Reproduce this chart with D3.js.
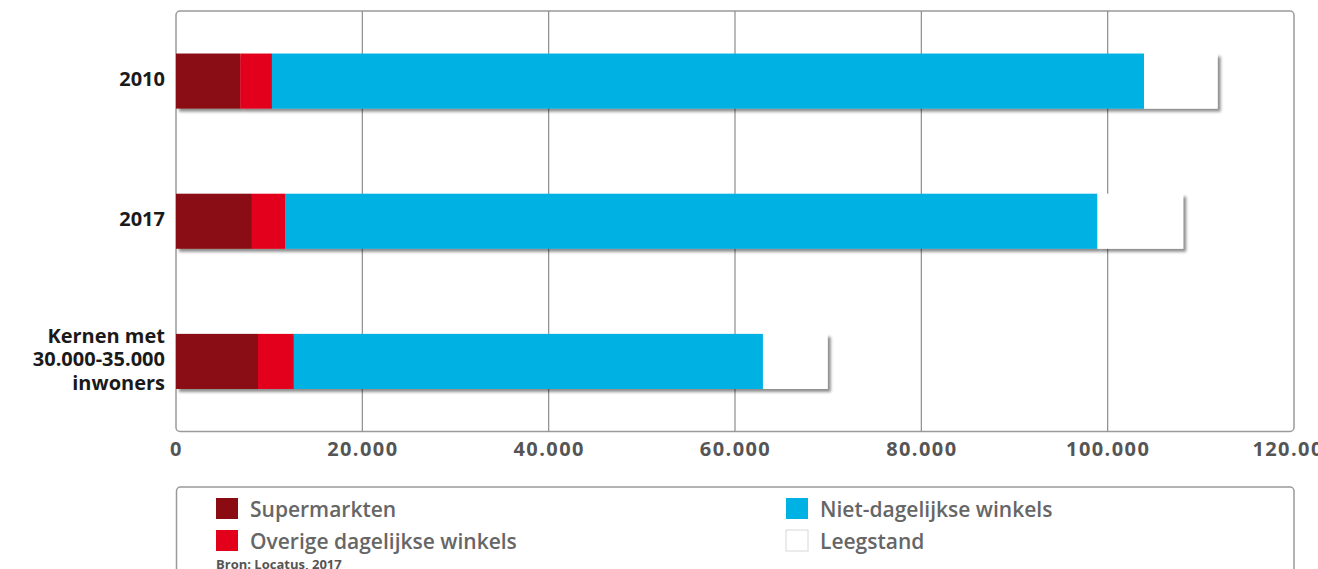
<!DOCTYPE html>
<html>
<head>
<meta charset="utf-8">
<script src="https://cdn.jsdelivr.net/npm/d3@7"></script>
<style>
  html, body { margin: 0; padding: 0; background: #fff; }
  svg { display: block; }
</style>
</head>
<body>
<svg id="chart" width="1318" height="569"></svg>
<script>
// ---- data ----
const categories = ["2010", "2017", "Kernen met 30.000-35.000 inwoners"];
const categoryLines = [["2010"], ["2017"], ["Kernen met", "30.000-35.000", "inwoners"]];
const seriesNames = ["Supermarkten", "Overige dagelijkse winkels", "Niet-dagelijkse winkels", "Leegstand"];
const supermarkten = [6900, 8150, 8800];
const overige = [3400, 3550, 3850];
const nietDagelijks = [93600, 87200, 50350];
const leegstand = [7900, 9200, 6950];
const tickValues = [0, 20000, 40000, 60000, 80000, 100000, 120000];
const sourceText = "Bron: Locatus, 2017";

const colors = ["#8a0c12", "#e2001a", "#00b1e4", "#ffffff"];

// ---- layout ----
const svg = d3.select("#chart");
const plotLeft = 176, plotRight = 1294, plotTop = 11, plotBottom = 431.5;

const rows = categories.map((c, i) => ({
  cat: c,
  "Supermarkten": supermarkten[i],
  "Overige dagelijkse winkels": overige[i],
  "Niet-dagelijkse winkels": nietDagelijks[i],
  "Leegstand": leegstand[i]
}));
const stacked = d3.stack().keys(seriesNames)(rows);

const x = d3.scaleLinear().domain([0, 120000]).range([plotLeft, plotRight]);
const y = d3.scaleBand().domain(categories).range([plotTop, plotBottom]).paddingInner(0.607).paddingOuter(0.3035);

const nl = d3.formatLocale({decimal: ",", thousands: ".", grouping: [3], currency: ["€", ""]});
const fmt = nl.format(",");

// shadow filter
const defs = svg.append("defs");
const f = defs.append("filter").attr("id", "shadow").attr("x", "-5%").attr("y", "-20%").attr("width", "115%").attr("height", "160%");
f.append("feDropShadow").attr("dx", 3).attr("dy", 3).attr("stdDeviation", 1.6)
  .attr("flood-color", "#000").attr("flood-opacity", 0.45);

// plot box
svg.append("rect")
  .attr("x", plotLeft).attr("y", plotTop).attr("width", plotRight - plotLeft).attr("height", plotBottom - plotTop)
  .attr("rx", 4).attr("fill", "#fff").attr("stroke", "#9a9a9a").attr("stroke-width", 1.5);

// grid lines
svg.append("g").selectAll("line").data(tickValues.filter(d => d > 0 && d < 120000)).join("line")
  .attr("x1", d => x(d)).attr("x2", d => x(d))
  .attr("y1", plotTop).attr("y2", plotBottom)
  .attr("stroke", "#8c8c8c").attr("stroke-width", 1.2);

// bars, grouped per category so the shadow is unified
const barGroups = svg.append("g").selectAll("g").data(categories).join("g")
  .attr("filter", "url(#shadow)");
barGroups.each(function(cat, ci) {
  const g = d3.select(this);
  stacked.forEach((layer, si) => {
    const d = layer[ci];
    g.append("rect")
      .attr("x", x(d[0]))
      .attr("y", y(cat))
      .attr("width", x(d[1]) - x(d[0]))
      .attr("height", y.bandwidth())
      .attr("fill", colors[si]);
  });
});

// x axis labels
const xAxis = d3.axisBottom(x).tickValues(tickValues).tickFormat(fmt).tickSize(0).tickPadding(0);
const xg = svg.append("g").attr("transform", `translate(0,${plotBottom})`).call(xAxis);
xg.select(".domain").remove();
xg.selectAll("text")
  .attr("dy", null).attr("y", 24.5)
  .attr("font-family", "'Open Sans', sans-serif").attr("font-weight", 700)
  .attr("font-size", 20).attr("letter-spacing", "1.4px")
  .attr("fill", "#555");

// y axis labels
const yAxis = d3.axisLeft(y).tickSize(0).tickPadding(0).tickFormat("");
const yg = svg.append("g").attr("transform", `translate(${plotLeft - 11},0)`).call(yAxis);
yg.select(".domain").remove();
yg.selectAll(".tick").each(function(cat, i) {
  const lines = categoryLines[i];
  const t = d3.select(this).append("text")
    .attr("text-anchor", "end")
    .attr("font-family", "'Open Sans', sans-serif").attr("font-weight", 700)
    .attr("font-size", 20).attr("fill", "#1a1a1a");
  lines.forEach((ln, k) => {
    t.append("tspan").attr("x", 0)
      .attr("y", 5 + (k - (lines.length - 1) / 2) * 23.3)
      .text(ln);
  });
});

// legend
const lg = svg.append("g");
lg.append("rect").attr("x", plotLeft + 0.5).attr("y", 487).attr("width", plotRight - plotLeft - 0.5).attr("height", 120)
  .attr("rx", 4).attr("fill", "#fff").attr("stroke", "#9a9a9a").attr("stroke-width", 1.5);
const legendPos = [
  {x: 216, y: 498}, {x: 216, y: 530}, {x: 786, y: 498}, {x: 786, y: 530}
];
seriesNames.forEach((name, i) => {
  const p = legendPos[i];
  lg.append("rect").attr("x", p.x).attr("y", p.y).attr("width", 22).attr("height", 21)
    .attr("fill", colors[i])
    .attr("stroke", i === 3 ? "#d8d8d8" : "none").attr("stroke-width", 1);
  lg.append("text").attr("x", p.x + 34).attr("y", p.y + 19)
    .attr("font-family", "'Open Sans', sans-serif").attr("font-weight", 600)
    .attr("font-size", 21).attr("fill", "#666")
    .text(name);
});
lg.append("text").attr("x", 216).attr("y", 569)
  .attr("font-family", "'Open Sans', sans-serif").attr("font-weight", 700)
  .attr("font-size", 13).attr("fill", "#555")
  .text(sourceText);
</script>
</body>
</html>
